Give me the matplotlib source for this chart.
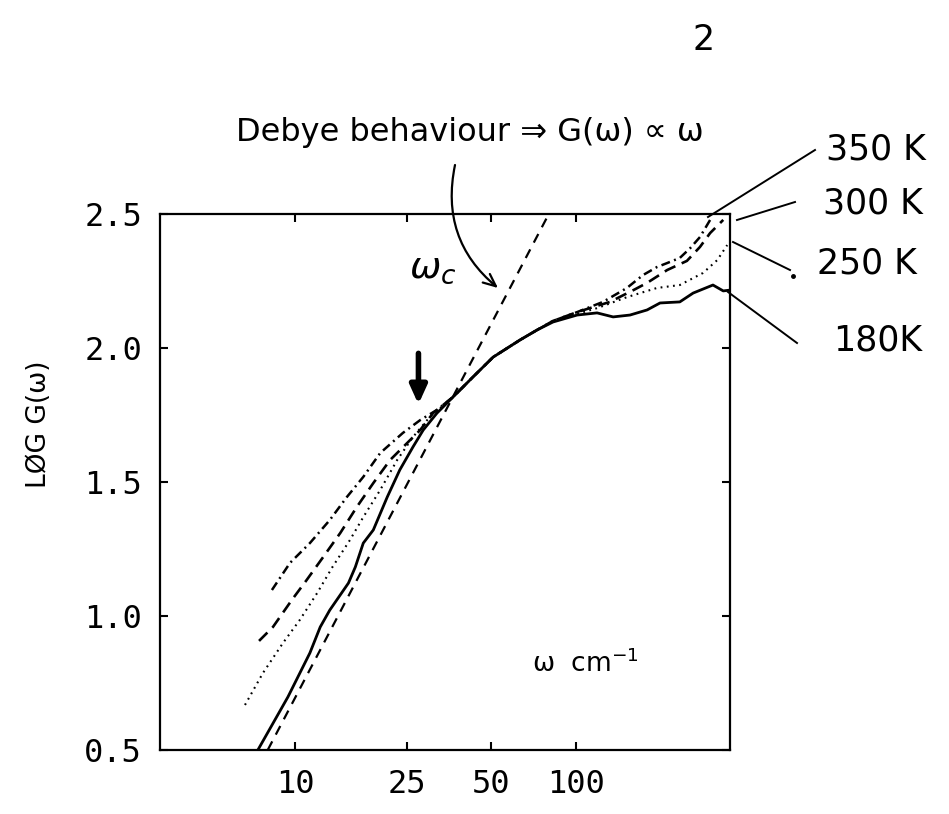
import matplotlib.pyplot as plt

# density of states G(w) vs frequency (cm^-1), log-log, four temperatures
w_180 = [7.38, 9.44, 11.3, 12.3, 13.3, 15.5, 16.4, 17.5, 19.0, 21.3, 23.6, 26.3, 28.6,
         32.0, 36.5, 43.0, 50.7, 63.2, 72.6, 82.8, 100.9, 118.8, 135.5, 155.6, 179,
         199, 234, 261, 307, 334, 353]
g_180 = [0.500, 0.698, 0.862, 0.959, 1.022, 1.123, 1.183, 1.272, 1.321, 1.444, 1.545,
         1.631, 1.694, 1.757, 1.817, 1.892, 1.966, 2.030, 2.067, 2.097, 2.123, 2.131,
         2.116, 2.123, 2.142, 2.168, 2.172, 2.205, 2.235, 2.213, 2.216]

w_250 = [6.64, 7.69, 9.06, 10.4, 12.0, 13.6, 15.7, 17.5, 20.1, 23.1, 26.3, 30.2,
         36.5, 43.0, 50.7, 63.2, 72.6, 82.8, 100.9, 119, 152, 194, 234, 283, 318, 345]
g_250 = [0.668, 0.787, 0.899, 0.985, 1.086, 1.183, 1.284, 1.369, 1.470, 1.582, 1.668,
         1.743, 1.817, 1.892, 1.966, 2.030, 2.067, 2.099, 2.127, 2.149, 2.190, 2.224,
         2.235, 2.280, 2.328, 2.384]

w_300 = [7.45, 8.35, 9.75, 11.0, 12.6, 14.5, 16.6, 19.0, 21.8, 25.1, 27.9, 31.0,
         36.5, 43.0, 50.7, 63.2, 72.6, 82.8, 100.9, 132, 160, 179, 211, 248, 276,
         300, 334]
g_300 = [0.907, 0.959, 1.060, 1.134, 1.220, 1.310, 1.407, 1.496, 1.582, 1.646, 1.694,
         1.757, 1.817, 1.892, 1.966, 2.030, 2.067, 2.101, 2.134, 2.172, 2.216, 2.243,
         2.291, 2.325, 2.377, 2.429, 2.478]

w_350 = [8.28, 9.60, 11.3, 13.3, 15.3, 17.5, 20.1, 24.2, 27.9, 32.0, 36.5, 43.0,
         50.7, 63.2, 72.6, 82.8, 100.9, 124.7, 151.7, 173, 194, 211, 234, 255, 276, 300]
g_350 = [1.097, 1.198, 1.272, 1.358, 1.444, 1.519, 1.608, 1.683, 1.731, 1.769, 1.817,
         1.892, 1.966, 2.030, 2.067, 2.101, 2.134, 2.172, 2.224, 2.272, 2.302, 2.317,
         2.336, 2.373, 2.414, 2.478]

# Debye law G ~ w^2 is a slope-2 line on these axes
debye_w = [8.0, 80.0]
debye_g = [0.5, 2.5]

omega_c = 27.5
omega_c_g = 1.79

x_ticks = [10, 25, 50, 100]
x_ticklabels = ['10', '25', '50', '100']
y_ticks = [0.5, 1.0, 1.5, 2.0, 2.5]
y_ticklabels = ['0.5', '1.0', '1.5', '2.0', '2.5']

W, H = 949, 814
plt.rcParams['lines.scale_dashes'] = False


def fpos(x, y):
    # figure fraction from pixel position (origin top-left)
    return x / W, 1 - y / H


fig = plt.figure(figsize=(W / 100, H / 100), dpi=100)
ax = fig.add_axes([160 / W, 1 - 750 / H, 570 / W, 536 / H])
ax.set_xscale('log')
ax.set_xlim(3.31, 353)
ax.set_ylim(0.5, 2.5)

ax.plot(debye_w, debye_g, color='black', lw=1.6, dashes=(7, 5.5))
ax.plot(w_250, g_250, color='black', lw=1.5, dashes=(1.3, 3.2))
ax.plot(w_300, g_300, color='black', lw=1.9, dashes=(8.5, 5))
ax.plot(w_350, g_350, color='black', lw=1.8, dashes=(6.5, 3.2, 1.4, 3.2))
ax.plot(w_180, g_180, color='black', lw=2.0)

ax.set_xticks(x_ticks)
ax.set_xticklabels(x_ticklabels)
ax.minorticks_off()
ax.set_yticks(y_ticks)
ax.set_yticklabels(y_ticklabels)
ax.tick_params(which='both', direction='in', length=6, width=1.5,
               top=True, right=True, labelsize=23)
ax.tick_params(axis='x', pad=14)
ax.tick_params(axis='y', pad=13)
for lab in ax.get_xticklabels() + ax.get_yticklabels():
    lab.set_family('DejaVu Sans Mono')
for sp in ax.spines.values():
    sp.set_linewidth(1.6)

ax.set_ylabel('LØG G(ω)', fontsize=19, family='DejaVu Sans')
ax.yaxis.set_label_coords(-0.19, 0.608)
ax.text(0.746, 0.16, 'ω  cm$^{-1}$', transform=ax.transAxes, fontsize=19,
        ha='center', va='center')

# handwritten notes
hand = dict(family='DejaVu Sans', fontsize=25, color='black')
fig.text(*fpos(236, 133), 'Debye behaviour ⇒ G(ω) ∝ ω', va='center', ha='left',
         family='DejaVu Sans', fontsize=23)
fig.text(*fpos(704, 40), '2', va='center', ha='center', **hand)
fig.text(*fpos(826, 150), '350 K', va='center', ha='left', **hand)
fig.text(*fpos(823, 203), '300 K', va='center', ha='left', **hand)
fig.text(*fpos(817, 264), '250 K', va='center', ha='left', **hand)
fig.text(*fpos(833, 341), '180K', va='center', ha='left', **hand)
fig.text(*fpos(433, 268), r'$\omega_c$', va='center', ha='center', fontsize=27)

leaders = [((708, 217), (815, 150)),
           ((737, 220), (795, 202)),
           ((733, 242), (790, 270)),
           ((728, 292), (797, 343))]
for (x0, y0), (x1, y1) in leaders:
    fig.add_artist(plt.Line2D([x0 / W, x1 / W], [1 - y0 / H, 1 - y1 / H],
                              color='black', lw=1.4, transform=fig.transFigure))
fig.add_artist(plt.Line2D([793 / W], [1 - 276 / H], marker='o', ms=2.5,
                          color='black', transform=fig.transFigure))

# w_c arrow
ax.annotate('', xy=(omega_c, omega_c_g), xytext=(omega_c, 1.98),
            arrowprops=dict(arrowstyle='-|>,head_length=1.1,head_width=0.5',
                            lw=4, color='black', shrinkA=0, shrinkB=0))

# curved arrow to the Debye line
ax.annotate('', xy=fpos(498, 288), xycoords='figure fraction',
            xytext=fpos(455, 165), textcoords='figure fraction',
            arrowprops=dict(arrowstyle='->,head_length=0.9,head_width=0.4',
                            lw=1.6, color='black', shrinkA=0, shrinkB=0,
                            connectionstyle='arc3,rad=0.3'),
            annotation_clip=False)

fig.savefig('out.png', dpi=100, facecolor='white')
